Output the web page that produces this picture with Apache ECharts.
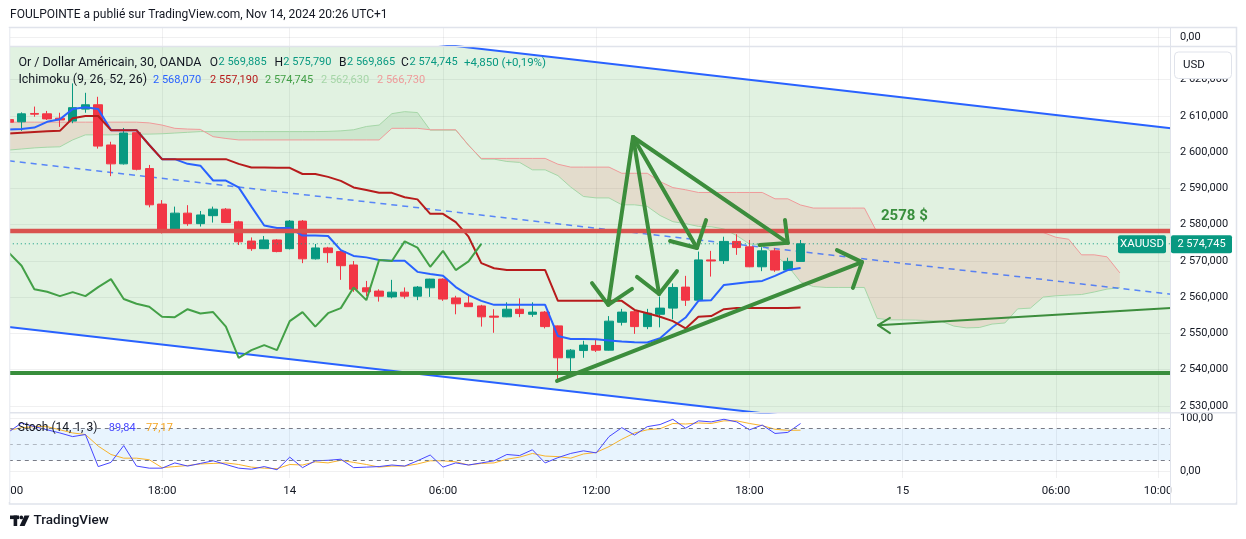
<!DOCTYPE html>
<html><head><meta charset="utf-8">
<script src="https://cdn.jsdelivr.net/npm/echarts@6/dist/echarts.min.js"></script>
<style>html,body{margin:0;padding:0;background:#fff}#c{width:1246px;height:539px}</style>
</head><body><div id="c"></div><script>
// ---------- DATA (30-min bars, slot 0 = Nov 13 12:00) ----------
const tickSlots = [0, 12, 22, 34, 46, 58, 70, 82, 90];
const tickLabels = ['12:00', '18:00', '14', '06:00', '12:00', '18:00', '15', '06:00', '10:00'];
const priceTicks = [2530, 2540, 2550, 2560, 2570, 2580, 2590, 2600, 2610, 2620];
const stochTicks = [0, 100];

const open  = [2609.0,2608.4,2610.7,2610.6,2609.4,2608.6,2611.9,2613.1,2602.0,2596.8,2605.4,2595.5,2585.7,2578.3,2583.2,2580.3,2582.5,2584.3,2580.8,2575.5,2573.4,2575.8,2573.4,2581.0,2570.6,2573.6,2572.6,2568.9,2562.6,2561.7,2560.1,2561.4,2560.3,2562.6,2565.0,2559.8,2558.4,2557.6,2554.8,2554.6,2556.7,2555.3,2555.9,2552.1,2543.3,2545.3,2546.7,2545.4,2553.1,2556.0,2551.9,2555.3,2557.0,2562.8,2559.2,2570.3,2570.1,2575.4,2573.9,2568.4,2572.8,2567.5,2569.885];
const high  = [2609.2,2611.0,2612.6,2611.4,2610.9,2619.0,2616.4,2615.3,2602.9,2606.7,2605.6,2596.5,2586.8,2585.0,2585.4,2583.8,2585.0,2584.6,2581.1,2576.5,2576.9,2576.0,2581.3,2581.3,2574.7,2573.9,2572.7,2570.0,2564.5,2562.2,2564.8,2562.7,2563.1,2565.1,2565.2,2560.4,2560.4,2557.9,2556.7,2558.6,2559.7,2558.6,2556.2,2552.2,2545.7,2548.0,2548.2,2554.8,2556.8,2556.5,2556.8,2560.2,2563.8,2565.9,2572.6,2572.8,2576.7,2577.4,2575.8,2573.8,2573.5,2570.9,2575.790];
const low   = [2608.0,2605.9,2609.8,2608.9,2607.0,2608.0,2610.9,2601.0,2593.4,2596.6,2595.0,2584.8,2577.6,2578.2,2579.7,2579.5,2580.6,2580.5,2574.4,2572.8,2573.3,2572.4,2573.2,2569.4,2570.4,2569.5,2564.8,2561.5,2560.3,2558.8,2559.7,2559.6,2559.2,2560.1,2559.0,2555.3,2557.3,2551.9,2550.2,2554.5,2554.5,2554.6,2551.4,2536.8,2539.2,2543.3,2544.9,2545.3,2552.2,2549.9,2551.2,2551.7,2553.9,2557.6,2559.1,2565.7,2569.2,2571.7,2568.3,2567.2,2567.0,2567.4,2569.865];
const close = [2608.3,2610.6,2610.5,2609.2,2608.9,2612.3,2613.1,2601.7,2596.8,2605.3,2595.3,2585.5,2578.3,2583.2,2580.3,2582.7,2584.3,2580.6,2575.3,2573.4,2575.8,2572.6,2581.0,2570.6,2573.6,2572.3,2568.7,2562.2,2561.5,2560.3,2561.4,2560.3,2562.8,2565.0,2559.5,2558.2,2557.4,2554.6,2554.5,2556.7,2555.5,2555.9,2551.9,2543.3,2545.4,2546.8,2545.4,2553.4,2555.9,2551.9,2555.6,2557.0,2562.7,2559.2,2570.3,2570.0,2575.4,2573.7,2568.4,2572.8,2567.5,2569.895,2574.745];

const tenkan = [2606.3,2606.4,2606.8,2608.4,2609.1,2611.9,2612.4,2611.9,2606.1,2606.1,2606.1,2602.0,2598.1,2598.1,2596.8,2596.3,2592.2,2592.2,2590.3,2585.0,2579.8,2579.1,2579.1,2577.0,2577.0,2576.9,2573.0,2571.4,2571.0,2570.3,2570.1,2570.1,2567.0,2566.4,2565.9,2562.8,2560.6,2559.0,2557.9,2557.9,2557.9,2557.9,2557.9,2549.3,2548.5,2548.5,2548.4,2548.1,2547.8,2547.6,2547.5,2548.7,2551.8,2554.4,2559.0,2559.2,2563.4,2563.8,2564.2,2564.5,2565.9,2567.5,2568.07];
const kijun  = [2605.2,2605.4,2605.6,2605.8,2605.9,2609.4,2610.0,2610.0,2606.1,2606.1,2606.1,2602.0,2598.1,2598.1,2598.1,2598.1,2598.1,2598.1,2596.8,2595.8,2595.8,2595.7,2595.7,2594.0,2594.0,2593.2,2592.1,2590.3,2589.6,2588.8,2588.8,2587.6,2587.0,2583.0,2583.0,2580.7,2576.7,2569.4,2568.0,2567.5,2567.5,2567.5,2567.5,2559.0,2559.0,2559.0,2559.0,2559.0,2559.0,2556.5,2555.6,2554.6,2553.4,2551.4,2554.6,2554.8,2556.7,2557.0,2557.0,2557.0,2557.0,2557.0,2557.19];
const senkouA = [2600.6,2600.9,2601.2,2601.4,2601.5,2603.4,2604.8,2604.8,2604.8,2604.9,2605.0,2605.0,2605.1,2605.3,2605.5,2605.7,2605.7,2605.7,2605.7,2605.7,2605.7,2605.7,2605.7,2605.7,2605.7,2605.75,2605.9,2606.2,2607.1,2607.5,2610.65,2611.2,2610.95,2606.1,2606.1,2606.1,2602.0,2598.1,2598.1,2597.45,2597.2,2595.15,2595.15,2593.55,2590.4,2587.8,2587.4,2587.4,2585.5,2585.5,2585.05,2582.55,2580.85,2580.3,2579.55,2579.45,2578.85,2577.0,2574.7,2574.45,2571.75,2568.65,2564.2,2562.95,2562.7,2562.7,2562.7,2562.7,2554.15,2553.75,2553.75,2553.7,2553.55,2553.4,2552.05,2551.55,2551.65,2552.6,2552.9,2556.8,2557.0,2560.05,2560.4,2560.6,2560.75,2561.45,2562.25,2562.63];
const senkouB = [2608.3,2608.3,2608.3,2608.3,2608.3,2608.3,2608.3,2608.3,2608.3,2608.3,2608.3,2608.1,2607.5,2606.6,2606.4,2606.3,2604.3,2603.8,2603.4,2603.4,2603.4,2603.4,2603.4,2603.4,2603.4,2603.4,2603.4,2603.4,2603.4,2603.4,2606.6,2606.6,2606.6,2606.2,2606.2,2606.2,2601.9,2598.3,2598.3,2598.3,2598.3,2598.3,2598.3,2596.7,2595.9,2595.9,2595.9,2595.9,2594.2,2594.2,2594.2,2591.9,2590.25,2589.65,2588.9,2588.9,2588.9,2588.9,2588.9,2588.9,2587.15,2587.15,2585.45,2584.6,2584.6,2584.6,2584.6,2584.6,2577.85,2577.85,2577.85,2577.85,2577.85,2577.85,2577.85,2577.85,2577.85,2577.85,2577.85,2577.85,2577.85,2577.85,2576.55,2576.0,2571.7,2571.7,2571.15,2566.73];
const chikouShift = 25;

const stochK = [74,91,84,78,72,65,69,8,16,48,9,5,5,15,9,14,19,12,5,3,8,2,26,6,19,20,22,6,7,8,11,9,19,30,7,15,11,15,19,31,29,40,15,25,33,38,34,65,82,68,84,88,98,81,95,93,98,93,78,87,71,73,89.84];
const stochD = [77,82,84,84,78,72,69,47,31,24,24,21,6,8,10,13,14,15,12,7,5,4,12,11,17,15,20,16,12,7,9,9,13,19,19,17,11,14,15,22,26,33,28,27,24,32,35,46,60,72,78,80,90,89,91,90,95,95,90,86,79,77,77.17];

// drawings (anchored in slot / price)
const resistance = 2578.3;
const support = 2539.1;
const channelUpper = [[0, 2643.5], [91, 2606.6]];
const channelLower = [[0, 2551.8], [91, 2515.1]];
const channelMid   = [[0, 2597.65], [91, 2560.85]];
const arrowLines = [
  [[48.88,2604.2],[46.94,2557.9]], [[45.67,2563.9],[46.94,2557.9],[48.8,2562.3]],
  [[48.88,2604.2],[50.92,2560.9]], [[49.19,2565.6],[50.92,2560.9],[52.32,2567.2]],
  [[48.88,2604.2],[53.89,2573.6]], [[51.78,2575.5],[53.89,2573.6],[54.6,2581.3]],
  [[48.88,2604.2],[61.0,2575.0]],  [[58.8,2574.4],[61.0,2575.0],[60.78,2581.3]],
  [[42.93,2536.9],[66.81,2569.7]], [[64.85,2573.0],[66.81,2569.7],[66.1,2562.6]]
];
const arrowThin = [
  [[91,2557.0],[68.07,2552.3]], [[69.0,2554.3],[68.07,2552.3],[69.0,2550.1]]
];
const noteText = {slot: 68.3, price: 2582.4, text: '2578 $'};

// ---------- LAYOUT ----------
const FONT = 'Roboto, "Noto Sans", Arial, sans-serif';
const TXT = '#131722';
const X0 = 0, X1 = 90.93;
const GL = 8.8, GW = 1161.2;
const Y0 = 2528.15, Y1 = 2629.31;
const last = close.length - 1;
const fmtP = (v, d) => { const s = v.toFixed(d).split('.'); return s[0].replace(/\B(?=(\d{3})+(?!\d))/g, ' ') + ',' + s[1]; };
const GRIDC = 'rgba(42,46,57,0.07)';

const xBase = (idx, labels) => ({
  type: 'value', gridIndex: idx, min: X0, max: X1,
  axisLine: {show: false}, axisTick: {show: false, customValues: tickSlots},
  splitLine: {show: true, lineStyle: {color: GRIDC, width: 1}},
  axisLabel: labels ? {show: true, customValues: tickSlots, formatter: v => tickLabels[tickSlots.indexOf(v)],
    color: TXT, fontSize: 11.5, fontFamily: FONT, margin: 7, showMinLabel: true, showMaxLabel: true, hideOverlap: false} : {show: false}
});

const chart = echarts.init(document.getElementById('c'));

const lineS = (data, color, width, z, extra) => Object.assign({
  type: 'line', xAxisIndex: 0, yAxisIndex: 0, data, symbol: 'none', silent: true, z,
  lineStyle: {color, width}, animation: false
}, extra || {});

function polyCustom(lines, color, width, z) {
  return {type: 'custom', xAxisIndex: 0, yAxisIndex: 0, z, clip: true, silent: true, animation: false,
    data: lines.map((l, k) => [k]),
    renderItem: (p, api) => ({type: 'polyline',
      shape: {points: lines[p.dataIndex].map(pt => api.coord(pt))},
      style: {stroke: color, lineWidth: width, fill: null, lineCap: 'round', lineJoin: 'round'}})
  };
}

const option = {
  animation: false,
  backgroundColor: '#ffffff',
  grid: [
    {left: GL, top: 46, width: GW, height: 366.7, outerBoundsMode: 'none', containLabel: false},
    {left: GL, top: 412.7, width: GW, height: 65.3, outerBoundsMode: 'none', containLabel: false},
    {left: GL, top: 28, width: GW, height: 18, outerBoundsMode: 'none', containLabel: false}
  ],
  xAxis: [xBase(0, false), xBase(1, true), xBase(2, false)],
  yAxis: [
    {type: 'value', gridIndex: 0, position: 'right', min: Y0, max: Y1, axisLine: {show: false},
     axisTick: {show: false, customValues: priceTicks}, splitLine: {show: true, lineStyle: {color: GRIDC}},
     axisLabel: {customValues: priceTicks, formatter: v => fmtP(v, 3), color: TXT, fontSize: 11, fontFamily: FONT, margin: 10}},
    {type: 'value', gridIndex: 1, position: 'right', min: -13.7, max: 110.5, axisLine: {show: false},
     axisTick: {show: false, customValues: stochTicks}, splitLine: {show: true, lineStyle: {color: GRIDC}},
     axisLabel: {customValues: stochTicks, formatter: v => fmtP(v, 2), color: TXT, fontSize: 11, fontFamily: FONT, margin: 10}},
    {type: 'value', gridIndex: 2, position: 'right', min: -1, max: 1, axisLine: {show: false},
     axisTick: {show: false, customValues: [0]}, splitLine: {show: true, lineStyle: {color: GRIDC}},
     axisLabel: {customValues: [0], formatter: v => fmtP(v, 2), color: TXT, fontSize: 11, fontFamily: FONT, margin: 10}}
  ],
  series: [
    // channel background
    {type: 'custom', xAxisIndex: 0, yAxisIndex: 0, z: 1, clip: true, silent: true, data: [[0]],
     renderItem: (p, api) => ({type: 'polygon',
       shape: {points: [api.coord(channelUpper[0]), api.coord(channelUpper[1]), api.coord(channelLower[1]), api.coord(channelLower[0])]},
       style: {fill: 'rgba(76,175,80,0.17)'}})},
    // ichimoku cloud
    {type: 'custom', xAxisIndex: 0, yAxisIndex: 0, z: 2, clip: true, silent: true, data: [[0]],
     renderItem: (p, api) => {
       const runs = []; let cur = [];
       for (let i = 0; i < senkouA.length; i++) {
         cur.push([i, senkouA[i], senkouB[i]]);
         if (i < senkouA.length - 1) {
           const d0 = senkouA[i] - senkouB[i], d1 = senkouA[i + 1] - senkouB[i + 1];
           if (d0 * d1 < 0) {
             const t = d0 / (d0 - d1);
             const ym = senkouA[i] + t * (senkouA[i + 1] - senkouA[i]);
             cur.push([i + t, ym, ym]); runs.push(cur); cur = [[i + t, ym, ym]];
           }
         }
       }
       runs.push(cur);
       return {type: 'group', children: runs.map(r => {
         let s = 0; r.forEach(q => s += q[1] - q[2]);
         const pts = r.map(q => api.coord([q[0], q[1]])).concat(r.slice().reverse().map(q => api.coord([q[0], q[2]])));
         return {type: 'polygon', shape: {points: pts}, style: {fill: s >= 0 ? 'rgba(67,160,71,0.12)' : 'rgba(244,67,54,0.12)'}};
       })};
     }},
    lineS(senkouA.map((v, i) => [i, v]), '#a5d6a7', 1, 3),
    lineS(senkouB.map((v, i) => [i, v]), '#ef9a9a', 1, 3),
    lineS(channelUpper, '#2962ff', 2, 3),
    lineS(channelLower, '#2962ff', 2, 3),
    lineS(channelMid, 'rgba(41,98,255,0.75)', 1.5, 3, {lineStyle: {color: 'rgba(41,98,255,0.75)', width: 1.5, type: [6, 5]}}),
    {type: 'candlestick', xAxisIndex: 0, yAxisIndex: 0, z: 4, silent: true, barWidth: 9, clip: true,
     encode: {x: 0, y: [1, 2, 3, 4]},
     data: open.map((o, i) => [i, o, close[i], low[i], high[i]]),
     itemStyle: {color: '#089981', color0: '#f23645', borderColor: '#089981', borderColor0: '#f23645', borderWidth: 1}},
    lineS(tenkan.map((v, i) => [i, v]), '#2962ff', 2, 5),
    lineS(kijun.map((v, i) => [i, v]), '#b71c1c', 2, 5),
    lineS(close.slice(chikouShift).map((v, i) => [i, v]), '#43a047', 2, 5),
    lineS([[X0, resistance], [X1, resistance]], '#d9534f', 4.5, 6),
    lineS([[X0, support], [X1, support]], '#388e3c', 4, 6),
    lineS([[X0, close[last]], [X1, close[last]]], '#089981', 1, 6, {lineStyle: {color: '#089981', width: 1, type: [1, 3]}}),
    polyCustom(arrowLines, '#3c8d3c', 4, 7),
    polyCustom(arrowThin, '#3c8d3c', 2, 7),
    {type: 'custom', xAxisIndex: 0, yAxisIndex: 0, z: 8, silent: true, data: [[0]],
     renderItem: (p, api) => { const c = api.coord([noteText.slot, noteText.price]);
       return {type: 'text', x: c[0], y: c[1], style: {text: noteText.text, fill: '#388e3c', font: 'bold 15px ' + FONT, textAlign: 'left', textVerticalAlign: 'middle'}}; }},
    // stochastic
    {type: 'line', xAxisIndex: 1, yAxisIndex: 1, data: [], symbol: 'none', silent: true, z: 1,
     markArea: {silent: true, itemStyle: {color: 'rgba(33,150,243,0.1)'}, data: [[{yAxis: 20}, {yAxis: 80}]]},
     markLine: {silent: true, symbol: 'none', label: {show: false},
       data: [{yAxis: 80, lineStyle: {color: '#787b86', type: [4, 4], width: 1}},
              {yAxis: 50, lineStyle: {color: 'rgba(120,123,134,0.5)', type: [4, 4], width: 1}},
              {yAxis: 20, lineStyle: {color: '#787b86', type: [4, 4], width: 1}}]}},
    {type: 'line', xAxisIndex: 1, yAxisIndex: 1, data: stochD.map((v, i) => [i, v]), symbol: 'none', silent: true, z: 3, lineStyle: {color: '#f7b32b', width: 1}},
    {type: 'line', xAxisIndex: 1, yAxisIndex: 1, data: stochK.map((v, i) => [i, v]), symbol: 'none', silent: true, z: 4, lineStyle: {color: '#4646ff', width: 1}}
  ]
};
chart.setOption(option);

// ---------- text / frame ----------
const yLast = chart.convertToPixel({yAxisIndex: 0}, close[last]);
const T = (id, x, y, text, color, size, extra) => Object.assign({type: 'text', id, x, y, z: 100,
  style: {text, fill: color, font: (size || 12.5) + 'px ' + FONT, textVerticalAlign: 'middle'}}, extra || {});
const N = 11;
const pct = ((close[last] - close[last - 1]) / close[last - 1] * 100);
const chg = close[last] - close[last - 1];
const g = [
  {type: 'rect', id: 'frame', shape: {x: 9.5, y: 27.5, width: 1227, height: 476.5}, style: {fill: null, stroke: '#e0e3eb', lineWidth: 1.5}, z: 90},
  {type: 'line', id: 'vsep', shape: {x1: 1170.5, y1: 28, x2: 1170.5, y2: 504}, style: {stroke: '#e0e3eb', lineWidth: 1}, z: 90},
  {type: 'line', id: 'hs1', shape: {x1: 10, y1: 46.5, x2: 1237, y2: 46.5}, style: {stroke: '#e0e3eb', lineWidth: 1.5}, z: 90},
  {type: 'line', id: 'hs2', shape: {x1: 10, y1: 412.7, x2: 1237, y2: 412.7}, style: {stroke: '#e0e3eb', lineWidth: 1.5}, z: 90},
  {type: 'rect', id: 'covL', shape: {x: 0, y: 28, width: 9.4, height: 474}, style: {fill: '#fff'}, z: 95},
  {type: 'rect', id: 'covR', shape: {x: 1171.2, y: 480, width: 65, height: 22}, style: {fill: '#fff'}, z: 95},
  T('title', 10, 15, 'FOULPOINTE a publié sur TradingView.com, Nov 14, 2024 20:26 UTC+1', TXT, 12),
  // USD box
  {type: 'rect', id: 'usd', shape: {x: 1174.5, y: 52, width: 57, height: 26.5, r: 4}, style: {fill: '#fff', stroke: '#e0e3eb', lineWidth: 1}, z: 100},
  T('usdT', 1183, 65, 'USD', TXT, 11.5, {z: 101}),
  // last price labels
  {type: 'rect', id: 'xb', shape: {x: 1118, y: yLast - 8.5, width: 48, height: 18, r: 2}, style: {fill: '#089981'}, z: 100},
  T('xbT', 1142, yLast + 0.5, 'XAUUSD', '#fff', 11.5, {z: 101, style: {text: 'XAUUSD', fill: '#fff', font: '11.5px ' + FONT, textAlign: 'center', textVerticalAlign: 'middle'}}),
  {type: 'rect', id: 'pb', shape: {x: 1171, y: yLast - 8.5, width: 61, height: 18, r: 2}, style: {fill: '#089981'}, z: 100},
  T('pbT', 1201.5, yLast + 0.5, fmtP(close[last], 3), '#fff', 11, {z: 101, style: {text: fmtP(close[last], 3), fill: '#fff', font: '11px ' + FONT, textAlign: 'center', textVerticalAlign: 'middle'}}),
  // legend line 1
  T('l1', 18.4, 62.7, 'Or / Dollar Américain, 30, OANDA', TXT),
  T('lO', 209.7, 62.7, 'O', TXT, 12), T('vO', 218.5, 62.7, fmtP(open[last], 3), '#089981', N),
  T('lH', 274.5, 62.7, 'H', TXT, 12), T('vH', 283.3, 62.7, fmtP(high[last], 3), '#089981', N),
  T('lB', 339, 62.7, 'B', TXT, 12), T('vB', 347, 62.7, fmtP(low[last], 3), '#089981', N),
  T('lC', 401, 62.7, 'C', TXT, 12), T('vC', 409.5, 62.7, fmtP(close[last], 3), '#089981', N),
  T('vchg', 464, 62.7, '+' + fmtP(chg, 3) + ' (+' + fmtP(pct, 2) + '%)', '#089981', 11.5),
  // legend line 2
  T('l2', 18.4, 80.3, 'Ichimoku (9, 26, 52, 26)', TXT),
  T('i1', 153, 80.3, fmtP(tenkan[tenkan.length - 1], 3), '#2962ff', N),
  T('i2', 210, 80.3, fmtP(kijun[kijun.length - 1], 3), '#b71c1c', N),
  T('i3', 265, 80.3, fmtP(close[last], 3), '#43a047', N),
  T('i4', 321, 80.3, fmtP(senkouA[senkouA.length - 1], 3), '#a5d6a7', N),
  T('i5', 377, 80.3, fmtP(senkouB[senkouB.length - 1], 3), '#ef9a9a', N),
  // stoch legend
  T('s1', 17.8, 428.3, 'Stoch (14, 1, 3)', TXT, 12),
  T('s2', 108.7, 428.3, fmtP(stochK[stochK.length - 1], 2), '#4646ff', N),
  T('s3', 146, 428.3, fmtP(stochD[stochD.length - 1], 2), '#f5a623', N),
  // TradingView logo
  {type: 'rect', id: 'lg1', shape: {x: 10, y: 515.5, width: 9, height: 3.6}, style: {fill: TXT}, z: 100},
  {type: 'rect', id: 'lg2', shape: {x: 13.6, y: 515.5, width: 3.6, height: 10.5}, style: {fill: TXT}, z: 100},
  {type: 'circle', id: 'lg3', shape: {cx: 21.3, cy: 517.4, r: 1.9}, style: {fill: TXT}, z: 100},
  {type: 'polygon', id: 'lg4', shape: {points: [[24.5, 515.5], [29.5, 515.5], [24.6, 526], [19.6, 526]]}, style: {fill: TXT}, z: 100},
  T('tv', 33.5, 521, 'TradingView', TXT, 13.5, {style: {text: 'TradingView', fill: TXT, font: '500 13.5px ' + FONT, textVerticalAlign: 'middle'}})
];
chart.setOption({graphic: g});
</script></body></html>
